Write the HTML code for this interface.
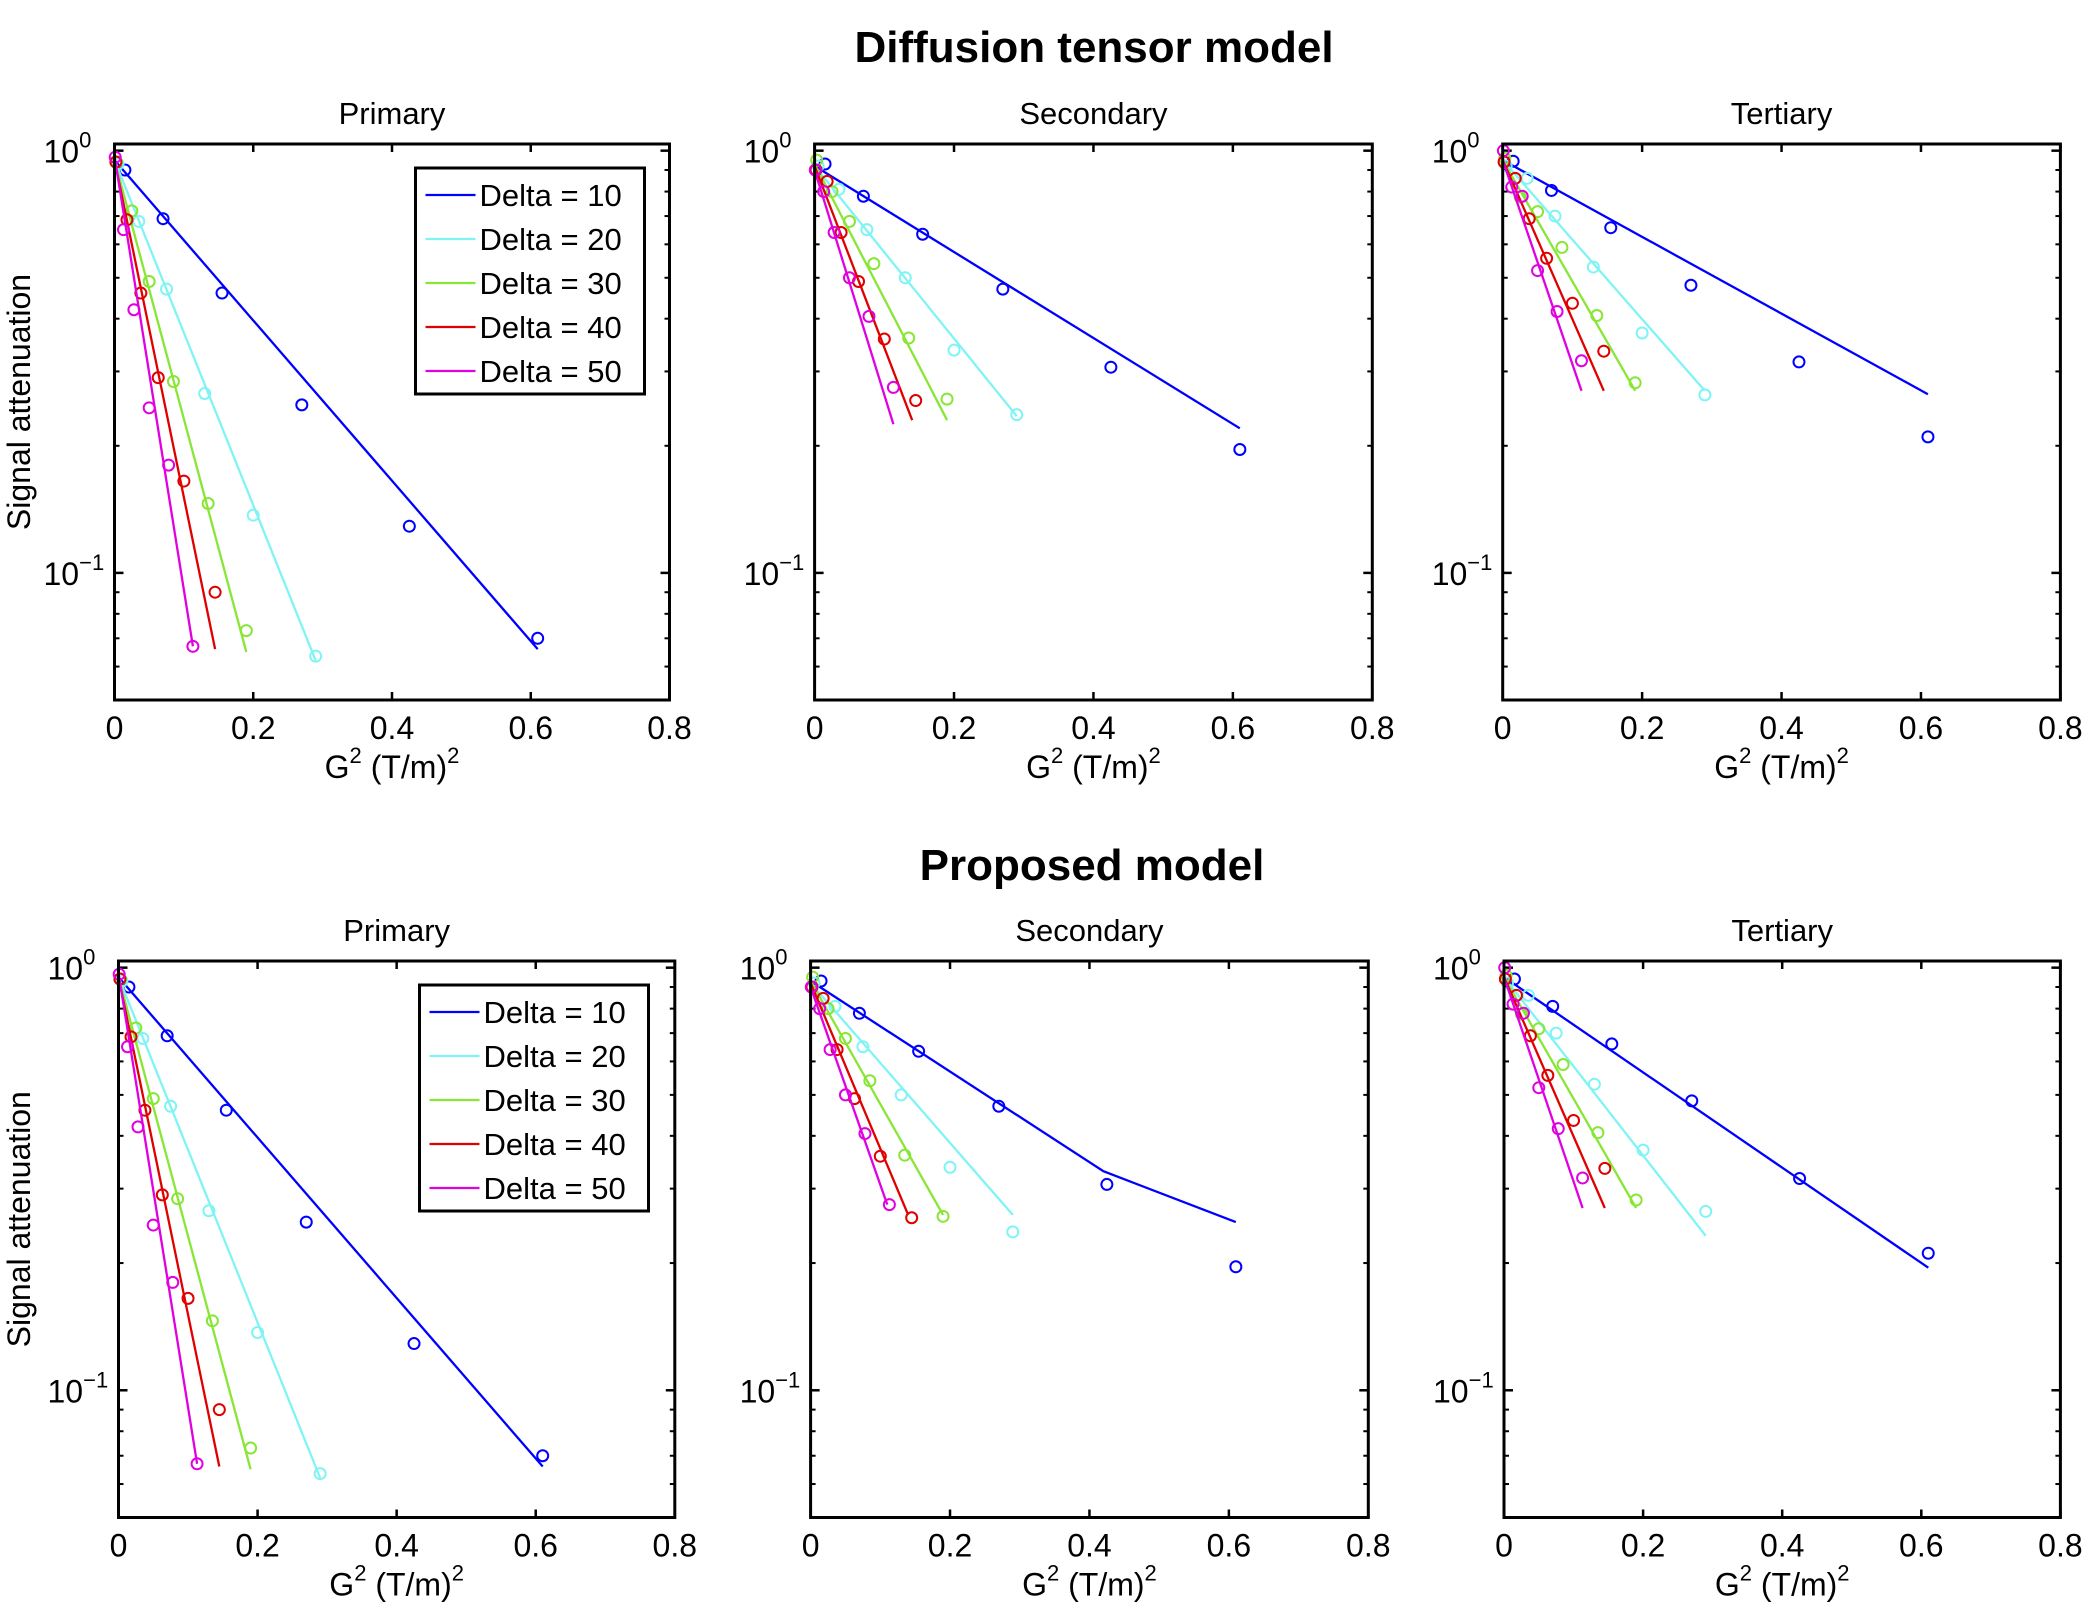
<!DOCTYPE html>
<html><head><meta charset="utf-8"><style>
html,body{margin:0;padding:0;background:#fff}
svg{display:block;font-family:"Liberation Sans",sans-serif}
</style></head><body>
<svg id="c" width="2087" height="1612" viewBox="0 0 2087 1612">
<text x="1094" y="62" font-size="44" font-weight="bold" text-anchor="middle">Diffusion tensor model</text>
<text x="1092" y="880" font-size="44" font-weight="bold" text-anchor="middle">Proposed model</text>
</svg>
<script>
// ---- data ----
const seriesNames = ["Delta = 10","Delta = 20","Delta = 30","Delta = 40","Delta = 50"];
const xD10 = [0.015,0.07,0.155,0.27,0.425,0.61];
const xD20 = [0.005,0.035,0.075,0.13,0.2,0.29];
const xD30 = [0.003,0.025,0.05,0.085,0.135,0.19];
const xD40 = [0.002,0.018,0.038,0.063,0.1,0.145];
const xD50 = [0.001,0.013,0.028,0.05,0.078,0.113];
const xTicks = [0,0.2,0.4,0.6,0.8];
const xTickLabels = ["0","0.2","0.4","0.6","0.8"];
// primary
const priPts = [[0.90,0.69,0.46,0.25,0.129,0.070],[0.93,0.68,0.47,0.266,0.137,0.0635],[0.94,0.72,0.49,0.284,0.146,0.073],[0.94,0.686,0.46,0.29,0.165,0.09],[0.965,0.65,0.42,0.246,0.18,0.067]];
const priFitX = [[0,0.61],[0,0.29],[0,0.19],[0,0.145],[0,0.113]];
const priFitY = [[0.95,0.066],[0.95,0.062],[0.95,0.065],[0.95,0.066],[0.97,0.067]];
// secondary
const secPts = [[0.93,0.78,0.634,0.47,0.307,0.196],[0.92,0.81,0.65,0.50,0.337,0.237],[0.95,0.80,0.68,0.54,0.36,0.258],[0.90,0.846,0.64,0.49,0.358,0.256],[0.90,0.80,0.64,0.50,0.405,0.275]];
const secFitXTop = [[0,0.61],[0,0.29],[0,0.19],[0,0.14],[0,0.113]];
const secFitYTop = [[0.92,0.22],[0.92,0.235],[0.93,0.23],[0.92,0.23],[0.90,0.225]];
const secFitXBot = [[0,0.42,0.61],[0,0.29],[0,0.19],[0,0.14],[0,0.11]];
const secFitYBot = [[0.93,0.33,0.25],[0.92,0.26],[0.93,0.26],[0.92,0.26],[0.90,0.275]];
// tertiary
const terPtsTop = [[0.944,0.805,0.657,0.48,0.316,0.21],[0.92,0.86,0.70,0.53,0.37,0.264],[0.96,0.776,0.717,0.59,0.407,0.282],[0.94,0.86,0.69,0.556,0.435,0.335],[1.0,0.82,0.78,0.52,0.416,0.318]];
const terPtsBot = [[0.94,0.81,0.66,0.484,0.317,0.211],[0.92,0.86,0.70,0.53,0.37,0.265],[0.96,0.776,0.717,0.59,0.407,0.282],[0.94,0.86,0.69,0.556,0.435,0.335],[1.0,0.82,0.78,0.52,0.416,0.318]];
const terFitX = [[0,0.61],[0,0.29],[0,0.19],[0,0.145],[0,0.113]];
const terFitYTop = [[0.95,0.265],[0.95,0.27],[0.95,0.27],[0.95,0.27],[0.95,0.27]];
const terFitYBot = [[0.95,0.195],[0.95,0.232],[0.95,0.27],[0.95,0.27],[0.95,0.27]];

const xs = [xD10,xD20,xD30,xD40,xD50];
const colors = ["#0000ff","#80f4f4","#88e635","#e00000","#e000e0"];
const NS = "http://www.w3.org/2000/svg";
const svg = document.getElementById('c');
function mk(tag, attrs, parent){const e=document.createElementNS(NS,tag);for(const k in attrs)e.setAttribute(k,attrs[k]);(parent||svg).appendChild(e);return e;}

const panels = [
 {name:"top-primary",title:"Primary",L:114.5,R:669.5,T:144,B:700,pts:priPts,fx:priFitX,fy:priFitY,legend:true,ylabel:true},
 {name:"top-secondary",title:"Secondary",L:814.6,R:1372.3,T:144,B:700,pts:secPts,fx:secFitXTop,fy:secFitYTop},
 {name:"top-tertiary",title:"Tertiary",L:1502.7,R:2060.4,T:144,B:700,pts:terPtsTop,fx:terFitX,fy:terFitYTop},
 {name:"bottom-primary",title:"Primary",L:118.5,R:674.8,T:961,B:1517.5,pts:priPts,fx:priFitX,fy:priFitY,legend:true,ylabel:true},
 {name:"bottom-secondary",title:"Secondary",L:810.6,R:1368.3,T:961,B:1517.5,pts:secPts,fx:secFitXBot,fy:secFitYBot},
 {name:"bottom-tertiary",title:"Tertiary",L:1504,R:2060.4,T:961,B:1517.5,pts:terPtsBot,fx:terFitX,fy:terFitYBot}
];
const yMin=0.05, yMax=1.037;
panels.forEach(p=>{
  const g=mk('g',{});
  
  
  const xS=v=>p.L+(v/0.8)*(p.R-p.L);
  const yS=v=>p.B-(Math.log10(v)-Math.log10(yMin))/(Math.log10(yMax)-Math.log10(yMin))*(p.B-p.T);
  const cx=(p.L+p.R)/2;
  const t=mk('text',{x:cx,y:p.T-20,'font-size':31,'text-anchor':'middle'},g);t.textContent=p.title;
  
  
  xTicks.forEach((v,i)=>{
    const x=xS(v);
    mk('line',{x1:x,x2:x,y1:p.B,y2:p.B-8,stroke:'#000','stroke-width':2.5},g);
    mk('line',{x1:x,x2:x,y1:p.T,y2:p.T+8,stroke:'#000','stroke-width':2.5},g);
    const tl=mk('text',{x:x,y:p.B+39,'font-size':32,'text-anchor':'middle'},g);tl.textContent=xTickLabels[i];
    
    
  });
  const minors=[0.05,0.06,0.07,0.08,0.09,0.2,0.3,0.4,0.5,0.6,0.7,0.8,0.9];
  minors.forEach(v=>{const y=yS(v);
    mk('line',{x1:p.L,x2:p.L+5,y1:y,y2:y,stroke:'#000','stroke-width':2},g);
    mk('line',{x1:p.R,x2:p.R-5,y1:y,y2:y,stroke:'#000','stroke-width':2},g);});
  [[1,"0"],[0.1,"\u22121"]].forEach(([v,e])=>{const y=yS(v);
    mk('line',{x1:p.L,x2:p.L+9,y1:y,y2:y,stroke:'#000','stroke-width':2.5},g);
    mk('line',{x1:p.R,x2:p.R-9,y1:y,y2:y,stroke:'#000','stroke-width':2.5},g);
    const tl=mk('text',{x:p.L-71,y:y+12,'font-size':32},g);
    
    
    tl.appendChild(document.createTextNode('10'));
    const ts=mk('tspan',{dy:-15,'font-size':22},tl);ts.textContent=e;});
  for(let s=0;s<5;s++){
    const d=p.fx[s].map((xv,i)=>(i?'L':'M')+xS(xv).toFixed(1)+','+yS(p.fy[s][i]).toFixed(1)).join(' ');
    const ln=mk('path',{d:d,fill:'none',stroke:colors[s],'stroke-width':2.3},g);
    
    
    xs[s].forEach((xv,i)=>{
      const c=mk('circle',{cx:xS(xv),cy:yS(p.pts[s][i]),r:5.5,fill:'none',stroke:colors[s],'stroke-width':2},g);
      
      
    });
  }
  const box=mk('rect',{x:p.L,y:p.T,width:p.R-p.L,height:p.B-p.T,fill:'none',stroke:'#000','stroke-width':3},g);
  
  
  const xl=mk('text',{x:cx,y:p.B+78,'font-size':32,'text-anchor':'middle'},g);
  
  
  xl.appendChild(document.createTextNode('G'));
  const s1=mk('tspan',{dy:-15,'font-size':22},xl);s1.textContent='2';
  const s2=mk('tspan',{dy:15},xl);s2.textContent=' (T/m)';
  const s3=mk('tspan',{dy:-15,'font-size':22},xl);s3.textContent='2';
  if(p.ylabel){
    const cy=(p.T+p.B)/2;
    const yl=mk('text',{x:0,y:0,'font-size':32,'text-anchor':'middle',transform:`translate(30,${cy-20}) rotate(-90)`},g);
    yl.textContent='Signal attenuation';
    
    
  }
  if(p.legend){
    const lx=p.L+301, ly=p.T+24, lw=229, lh=226;
    const lg=mk('g',{},g);
    
    
    mk('rect',{x:lx,y:ly,width:lw,height:lh,fill:'#fff',stroke:'#000','stroke-width':3},lg);
    seriesNames.forEach((n,s)=>{
      const yy=ly+27+s*44;
      mk('line',{x1:lx+10,x2:lx+60,y1:yy,y2:yy,stroke:colors[s],'stroke-width':2.3},lg);
      const et=mk('text',{x:lx+64,y:yy+11,'font-size':31},lg);et.textContent=n;
      
      
    });
  }
});
</script>
</body></html>
